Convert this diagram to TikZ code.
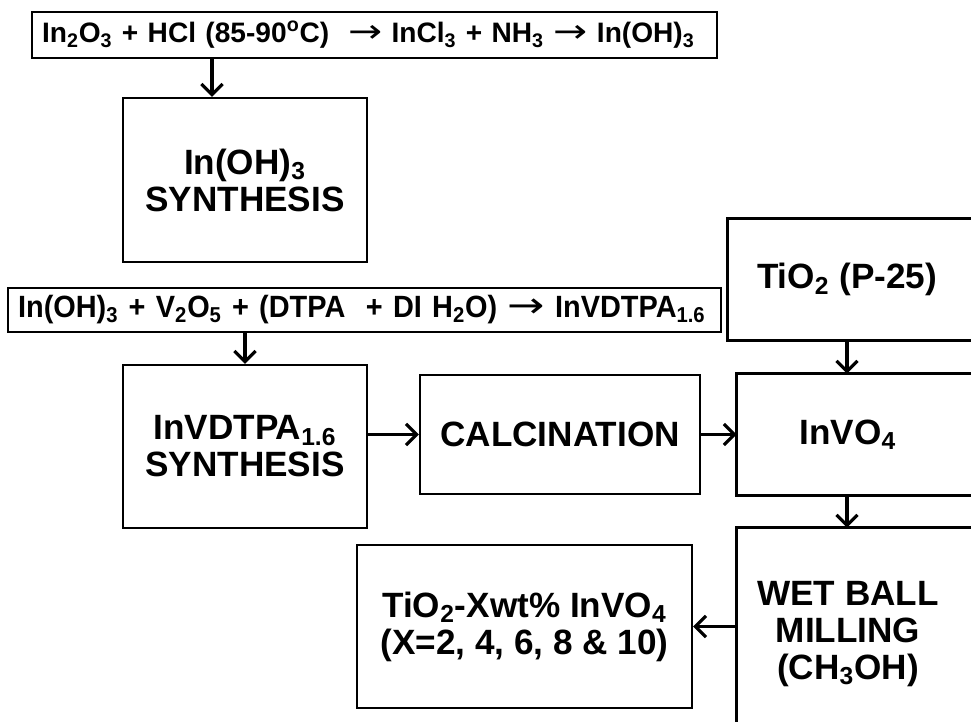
\documentclass[tikz,border=0pt]{standalone}
\usepackage{fontspec}
\setmainfont{Liberation Sans}
\newfontfamily\narrowfont[FakeStretch=0.94]{Liberation Sans}
\newfontfamily\symfont{DejaVu Sans}
\usetikzlibrary{arrows.meta,calc}
\newcommand{\rarr}{{\symfont\mdseries\scalebox{1.45}[1.15]{→}}}

\begin{document}
\begin{tikzpicture}[x=0.02cm, y=-0.02cm,
  eqbox/.style={draw, line width=1.3pt, inner xsep=0.2cm, inner ysep=0pt, align=left,
    font=\bfseries\fontsize{16}{17}\selectfont},
  procbox/.style={draw, line width=1.4pt, inner sep=0pt, align=center,
    font=\bfseries\fontsize{20}{21}\selectfont},
  proctext/.style={inner sep=0pt, align=center, font=\bfseries\fontsize{20}{21}\selectfont},
  boxline/.style={line width=1.4pt},
  arr/.style={line width=1.8pt, -{Straight Barb[length=6pt,width=12pt,line width=1.8pt]}}
]
  \useasboundingbox (0,0) rectangle (971,721);
  \clip (0,0) rectangle (971,721);

  % Equations
  \node[eqbox, text width=13.3cm, minimum height=0.92cm] (eq1) at (374.5,35)
    {In\textsubscript{2}O\textsubscript{3} + HCl (85-90\textsuperscript{o}C) \ \rarr\ InCl\textsubscript{3} + NH\textsubscript{3} \rarr\ In(OH)\textsubscript{3}};
  \node[eqbox, text width=13.86cm, minimum height=0.88cm, font=\bfseries\narrowfont\fontsize{17.5}{18}\selectfont] (eq2) at (364.5,310)
    {In(OH)\textsubscript{3} + V\textsubscript{2}O\textsubscript{5} + (DTPA \ + DI H\textsubscript{2}O) \rarr\ InVDTPA\textsubscript{1.6}};

  % Process boxes
  \node[procbox, minimum width=4.88cm, minimum height=3.28cm] (synth1) at (245,180)
    {In(OH)\textsubscript{3}\\SYNTHESIS};
  \node[procbox, minimum width=4.88cm, minimum height=3.26cm] (synth2) at (245,446.5)
    {InVDTPA\textsubscript{1.6}\\SYNTHESIS};
  \node[procbox, minimum width=5.6cm, minimum height=2.38cm] (calc) at (560,434.5)
    {CALCINATION};
  \node[procbox, minimum width=6.7cm, minimum height=3.26cm] (final) at (524.5,626.5)
    {TiO\textsubscript{2}-Xwt\% InVO\textsubscript{4}\\(X=2, 4, 6, 8 \& 10)};

  % Boxes running off the right edge
  \node[proctext, minimum width=4.76cm, minimum height=2.42cm] (tio2) at (847,279.5)
    {TiO\textsubscript{2} (P-25)};
  \node[proctext, minimum width=4.44cm, minimum height=2.42cm] (invo4) at (848,434.5)
    {InVO\textsubscript{4}};
  \node[proctext, minimum width=4.44cm, minimum height=4.24cm] (wet) at (848,634)
    {WET BALL\\MILLING\\(CH\textsubscript{3}OH)};
  \draw[boxline] (tio2.north west) rectangle ($(tio2.south east)+(100,0)$);
  \draw[boxline] (invo4.north west) rectangle ($(invo4.south east)+(100,0)$);
  \draw[boxline] (wet.north west) rectangle ($(wet.south east)+(100,0)$);

  % Arrows
  \coordinate (a1) at (212,0);
  \coordinate (a2) at (847,0);
  \draw[arr] (eq1.south -| a1) -- (synth1.north -| a1);
  \draw[arr] (eq2.south -| synth2.north) -- (synth2.north);
  \draw[arr] (synth2.east |- calc.west) -- (calc.west);
  \draw[arr] (calc.east) -- (invo4.west);
  \draw[arr] (tio2.south -| a2) -- (invo4.north -| a2);
  \draw[arr] (invo4.south -| a2) -- (wet.north -| a2);
  \draw[arr] (wet.west |- final.east) -- (final.east);
\end{tikzpicture}
\end{document}
